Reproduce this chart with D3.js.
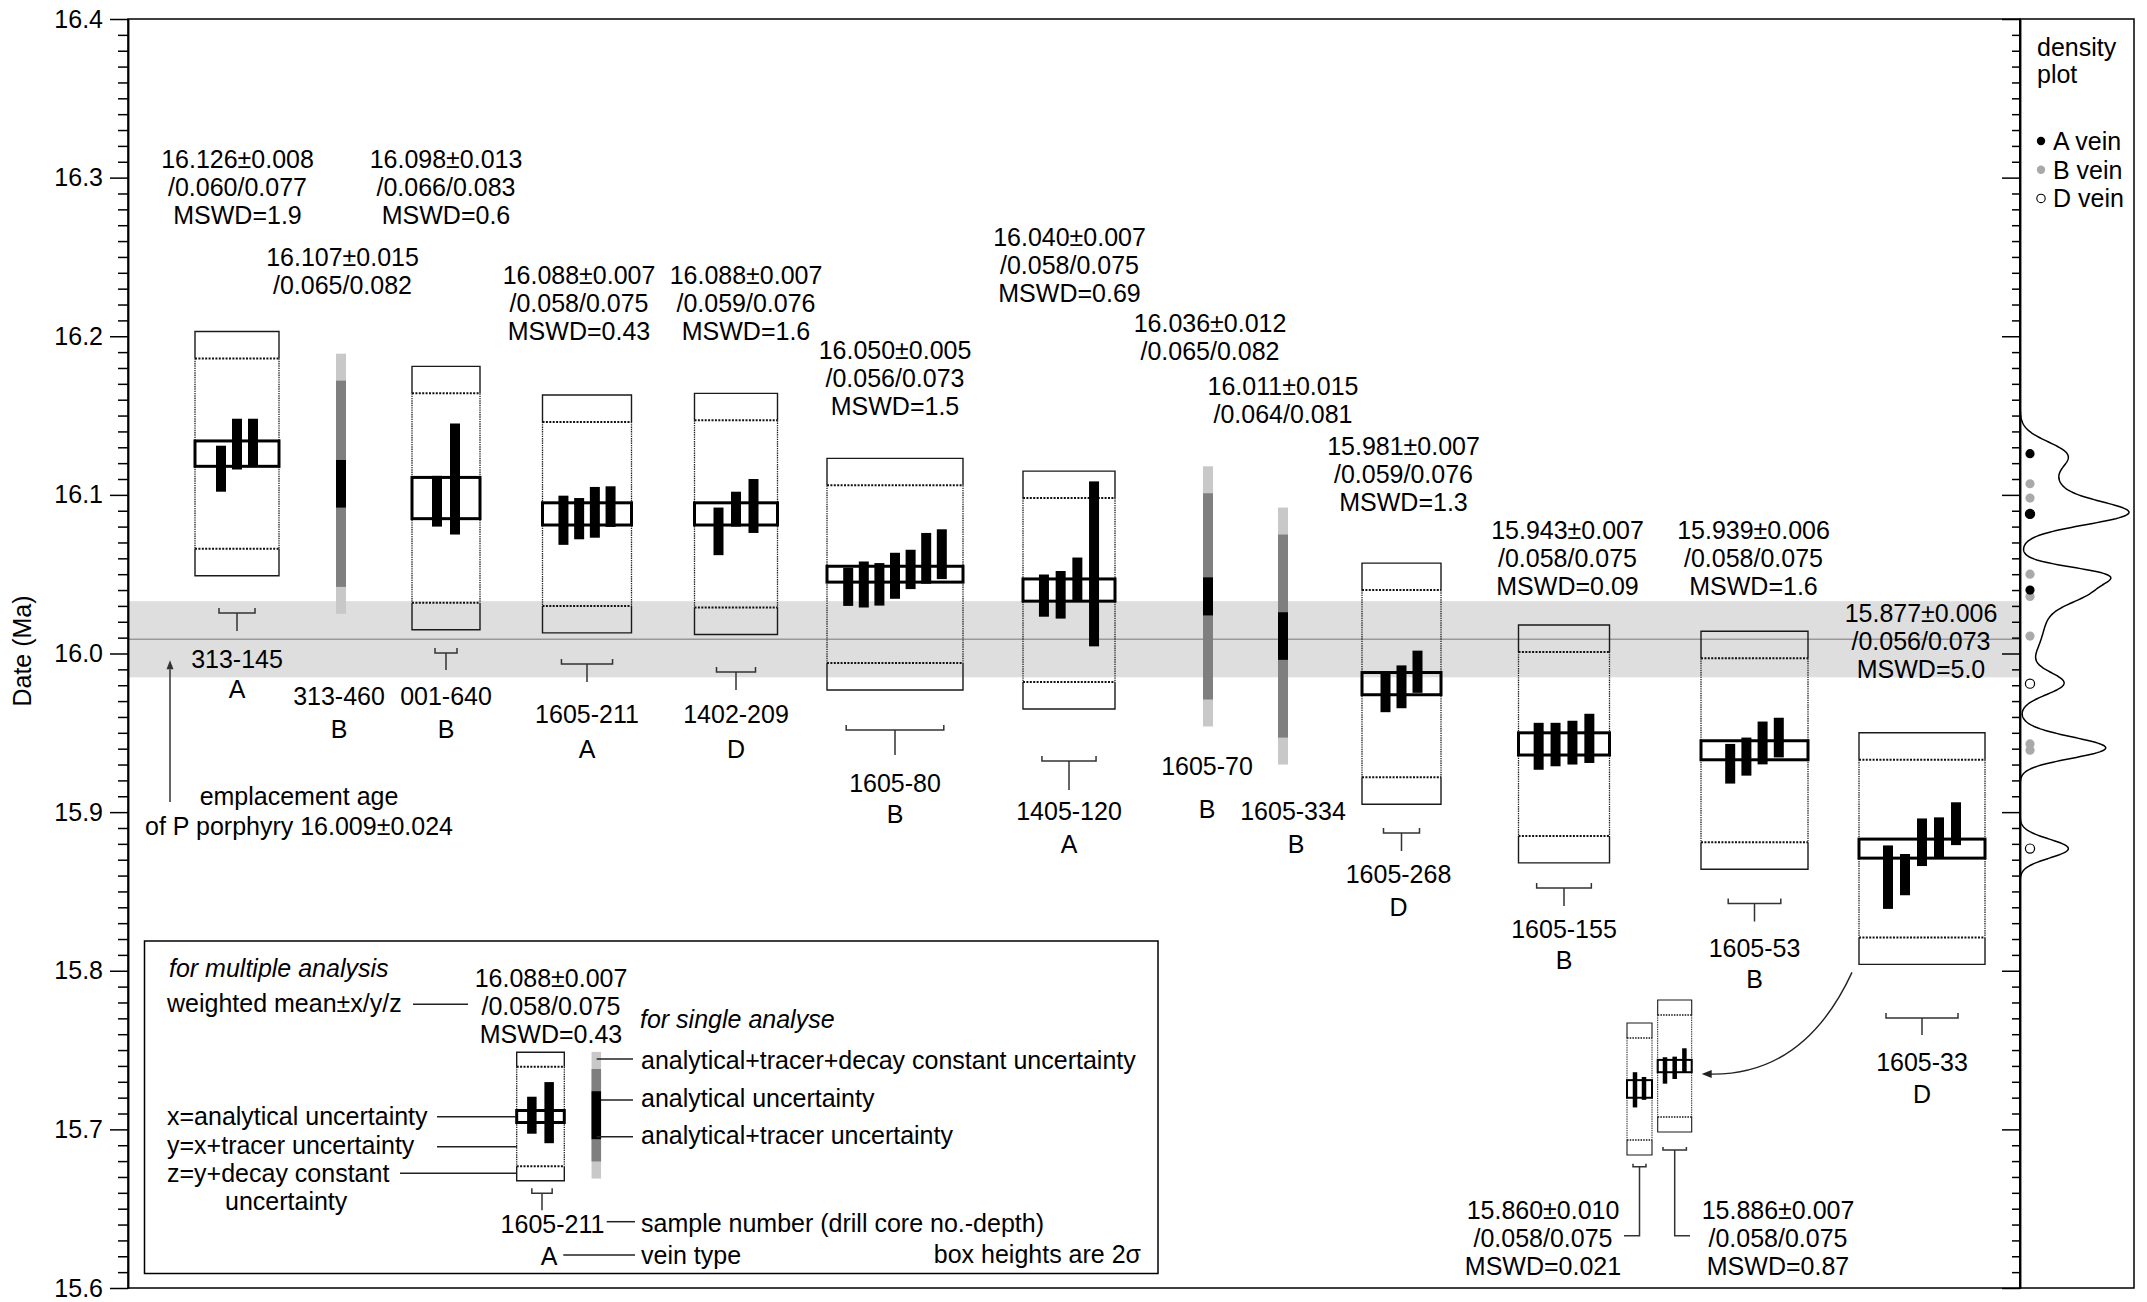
<!DOCTYPE html>
<html>
<head>
<meta charset="utf-8">
<script src="https://cdn.jsdelivr.net/npm/d3@7"></script>
<style>
  body { margin: 0; background: #fff; }
  svg { display: block; font-family: "Liberation Sans", Arial, Helvetica, sans-serif; }
</style>
</head>
<body>
<svg id="chart" width="2147" height="1302"></svg>
<script>
// ---------------- data ----------------
const samples   = ["313-145", "313-460", "001-640", "1605-211", "1402-209", "1605-80", "1405-120",
                   "1605-70", "1605-334", "1605-268", "1605-155", "1605-53", "1605-33"];
const veinTypes = ["A", "B", "B", "A", "D", "B", "A", "B", "B", "D", "B", "B", "D"];
const meanAges  = [16.126, 16.107, 16.098, 16.088, 16.088, 16.050, 16.040, 16.036, 16.011, 15.981, 15.943, 15.939, 15.877];
// ±x analytical / ±y with tracer / ±z with decay constant
const errX = [0.008, 0.015, 0.013, 0.007, 0.007, 0.005, 0.007, 0.012, 0.015, 0.007, 0.007, 0.006, 0.006];
const errY = [0.060, 0.065, 0.066, 0.058, 0.059, 0.056, 0.058, 0.065, 0.064, 0.059, 0.058, 0.058, 0.056];
const errZ = [0.077, 0.082, 0.083, 0.075, 0.076, 0.073, 0.075, 0.082, 0.081, 0.076, 0.075, 0.075, 0.073];
const mswd = ["1.9", null, "0.6", "0.43", "1.6", "1.5", "0.69", null, null, "1.3", "0.09", "1.6", "5.0"];

// individual analyses [date, ±analytical]; empty = single analysis sample
const analyses = [
  [[16.1165, 0.0145], [16.132, 0.016], [16.133, 0.015]],
  [],
  [[16.096, 0.016], [16.110, 0.035]],
  [[16.084, 0.0155], [16.085, 0.013], [16.089, 0.016], [16.0926, 0.0128]],
  [[16.077, 0.015], [16.091, 0.011], [16.093, 0.017]],
  [[16.042, 0.012], [16.0435, 0.0145], [16.0436, 0.0134], [16.049, 0.0145], [16.053, 0.0124], [16.060, 0.016], [16.0626, 0.0157]],
  [[16.0365, 0.0133], [16.037, 0.015], [16.0465, 0.014], [16.0565, 0.052]],
  [],
  [],
  [[15.9755, 0.0125], [15.979, 0.0135], [15.9885, 0.0133]],
  [[15.9415, 0.0148], [15.9426, 0.0137], [15.9438, 0.0138], [15.9465, 0.0155]],
  [[15.9305, 0.0125], [15.935, 0.012], [15.9436, 0.0135], [15.947, 0.0125]],
  [[15.859, 0.020], [15.8606, 0.013], [15.881, 0.015], [15.884, 0.0127], [15.8927, 0.0135]]
];

// 1605-33 split into two sub-populations
const subAges  = [15.860, 15.886];
const subErrX  = [0.010, 0.007];
const subErrY  = [0.058, 0.058];
const subErrZ  = [0.075, 0.075];
const subMswd  = ["0.021", "0.87"];
const subIndex = [[0, 1], [2, 3, 4]];

// emplacement age of the P porphyry
const emplacementAge = 16.009;
const emplacementErr = 0.024;

// key example
const keyBars   = [[16.0895, 0.0216], [16.0925, 0.0357]];
const keySingle = [16.0895, 0.028, 0.054, 0.074];

const yTickLabels = ["15.6", "15.7", "15.8", "15.9", "16.0", "16.1", "16.2", "16.3", "16.4"];

// ---------------- layout ----------------
const W = 2147, H = 1302;
const plot = { left: 128, right: 2020, top: 19, bottom: 1288 };
const panelRight = 2134;
const FS = 25, LH = 27.8;

// column positions in plot units (distance from the left frame)
const columns = [
  { col: 109,    w: 84,  step: 16,   annDx: 0.5, annY: 168, labY: 668, veinY: 698, brY: 613,   stem: 18 },
  { col: 213,                        annDx: 1.5, annY: 266, labDx: -2, labY: 705, veinY: 738 },
  { col: 318,    w: 68,  step: 18,   annDx: 0,   annY: 168, labY: 705, veinY: 738, brY: 653,   stem: 17 },
  { col: 459,    w: 89,  step: 15.7, annDx: -8,  annY: 284, labY: 723, veinY: 758, brY: 664,   stem: 18 },
  { col: 608,    w: 83,  step: 17.5, annDx: 10,  annY: 284, labY: 723, veinY: 758, brY: 672,   stem: 18 },
  { col: 767,    w: 136, step: 15.6, annDx: 0,   annY: 359, labY: 792, veinY: 823, brY: 730,   stem: 25 },
  { col: 941,    w: 92,  step: 16.7, annDx: 0.5, annY: 246, labY: 820, veinY: 853, brY: 761,   stem: 29 },
  { col: 1080,                       annDx: 2,   annY: 332, labDx: -1, labY: 775, veinY: 818 },
  { col: 1155,                       annDx: 0,   annY: 395, labDx: 10, veinDx: 13, labY: 820, veinY: 853 },
  { col: 1273.5, w: 79,  step: 16,   annDx: 2,   annY: 455, labDx: -3, labY: 883, veinY: 916, brY: 833, stem: 18 },
  { col: 1436,   w: 91,  step: 16.9, annDx: 3.5, annY: 539, labY: 938, veinY: 969, brY: 888,   stem: 18 },
  { col: 1626.5, w: 107, step: 16.2, annDx: -1,  annY: 539, labY: 957, veinY: 988, brY: 903.5, stem: 18 },
  { col: 1794,   w: 126, step: 17,   annDx: -1,  annY: 622, labY: 1071, veinY: 1103, brY: 1018, stem: 17 }
];

const svg = d3.select("#chart");
const y = d3.scaleLinear().domain([15.6, 16.4]).range([plot.bottom, plot.top]);
const x = d3.scaleLinear().domain([0, plot.right - plot.left]).range([plot.left, plot.right]);
const f3 = d3.format(".3f");

function text(p, px, py, s, anchor = "middle", extra = {}) {
  const t = p.append("text").attr("x", px).attr("y", py).attr("text-anchor", anchor)
    .attr("font-size", extra.size || FS).attr("fill", "#000").text(s);
  if (extra.italic) t.attr("font-style", "italic");
  return t;
}
function hline(p, x1, x2, yy, stroke = "#222", sw = 1.5) {
  p.append("line").attr("x1", x1).attr("x2", x2).attr("y1", yy).attr("y2", yy)
    .attr("stroke", stroke).attr("stroke-width", sw);
}

// weighted-mean group: outer ±z box, dotted ±y box, analyses bars, thick ±x box
function drawMulti(p, ys, cx, w, step, barW, m, ex, ey, ez, bars, st) {
  const x0 = cx - w / 2, x1 = cx + w / 2;
  const yOT = ys(m + ez), yDT = ys(m + ey), yDB = ys(m - ey), yOB = ys(m - ez);
  p.append("path")
    .attr("d", `M${x0},${yDT}V${yOT}H${x1}V${yDT}M${x0},${yDB}V${yOB}H${x1}V${yDB}`)
    .attr("fill", "none").attr("stroke", "#1a1a1a").attr("stroke-width", st.outer);
  [yDT, yDB].forEach(yy => p.append("line").attr("x1", x0).attr("x2", x1).attr("y1", yy).attr("y2", yy)
    .attr("stroke", "#111").attr("stroke-width", st.dot).attr("stroke-dasharray", st.dash));
  [x0, x1].forEach(xx => p.append("line").attr("x1", xx).attr("x2", xx).attr("y1", yDT).attr("y2", yDB)
    .attr("stroke", "#222").attr("stroke-width", st.side).attr("stroke-dasharray", "1.4,0.9"));
  const n = bars.length;
  const bx = j => cx + (j - (n - 1) / 2) * step;
  p.selectAll(null).data(bars).join("rect")
    .attr("x", (d, j) => bx(j) - barW / 2).attr("width", barW)
    .attr("y", d => ys(d[0] + d[1])).attr("height", d => ys(d[0] - d[1]) - ys(d[0] + d[1]))
    .attr("fill", "#000");
  p.append("rect").attr("x", x0).attr("width", w)
    .attr("y", ys(m + ex)).attr("height", ys(m - ex) - ys(m + ex))
    .attr("fill", "none").attr("stroke", "#000").attr("stroke-width", st.thick);
  return { first: bx(0), last: bx(n - 1) };
}
function drawSingle(p, ys, cx, barW, m, ex, ey, ez) {
  [[ez, "#c8c8c8"], [ey, "#7f7f7f"], [ex, "#000"]].forEach(([e, c]) =>
    p.append("rect").attr("x", cx - barW / 2).attr("width", barW)
      .attr("y", ys(m + e)).attr("height", ys(m - e) - ys(m + e)).attr("fill", c));
}
function drawBracket(p, xa, xb, cx, yb, stem, tick = 5) {
  p.append("path").attr("d", `M${xa},${yb - tick}V${yb}H${xb}V${yb - tick}M${cx},${yb}V${yb + stem}`)
    .attr("fill", "none").attr("stroke", "#333").attr("stroke-width", 1.5);
}

// ---------------- emplacement band ----------------
svg.append("rect")
  .attr("x", plot.left).attr("width", plot.right - plot.left)
  .attr("y", y(emplacementAge + emplacementErr))
  .attr("height", y(emplacementAge - emplacementErr) - y(emplacementAge + emplacementErr))
  .attr("fill", "#dedede");
hline(svg, plot.left, plot.right, y(emplacementAge), "#999", 1.5);

// ---------------- frames & axes ----------------
svg.append("rect").attr("x", plot.left).attr("y", plot.top)
  .attr("width", plot.right - plot.left).attr("height", plot.bottom - plot.top)
  .attr("fill", "none").attr("stroke", "#000").attr("stroke-width", 1.5);
svg.append("rect").attr("x", plot.right).attr("y", plot.top)
  .attr("width", panelRight - plot.right).attr("height", plot.bottom - plot.top)
  .attr("fill", "none").attr("stroke", "#000").attr("stroke-width", 1.5);

const majorTicks = yTickLabels.map(Number);
const minorTicks = d3.range(1560, 1641).filter(v => v % 10 !== 0).map(v => v / 100);

function styleAxis(g) {
  g.select(".domain").attr("stroke", "#000").attr("stroke-width", 1.5);
  g.selectAll(".tick line").attr("stroke", "#000").attr("stroke-width", 1.5);
  g.selectAll(".tick text").attr("font-size", FS).attr("fill", "#000")
    .attr("font-family", "Liberation Sans, Arial, sans-serif");
}
const leftMajor = svg.append("g").attr("transform", `translate(${plot.left},0)`)
  .call(d3.axisLeft(y).tickValues(majorTicks).tickSize(18).tickSizeOuter(0).tickPadding(7)
    .tickFormat((d, i) => yTickLabels[i]));
styleAxis(leftMajor);
const leftMinor = svg.append("g").attr("transform", `translate(${plot.left},0)`)
  .call(d3.axisLeft(y).tickValues(minorTicks).tickSize(10).tickSizeOuter(0).tickFormat(""));
styleAxis(leftMinor);
const rightMajor = svg.append("g").attr("transform", `translate(${plot.right},0)`)
  .call(d3.axisLeft(y).tickValues(majorTicks).tickSize(18).tickSizeOuter(0).tickFormat(""));
styleAxis(rightMajor);
const rightMinor = svg.append("g").attr("transform", `translate(${plot.right},0)`)
  .call(d3.axisLeft(y).tickValues(minorTicks).tickSize(8).tickSizeOuter(0).tickFormat(""));
styleAxis(rightMinor);

svg.append("text").attr("transform", `translate(31,651) rotate(-90)`)
  .attr("text-anchor", "middle").attr("font-size", FS).text("Date (Ma)");

// emplacement annotation with arrow
const arrowX = 170;
svg.append("line").attr("x1", arrowX).attr("x2", arrowX).attr("y1", 802).attr("y2", y(emplacementAge - emplacementErr) - 8)
  .attr("stroke", "#333").attr("stroke-width", 1.5);
svg.append("path")
  .attr("d", `M${arrowX},${y(emplacementAge - emplacementErr) - 17}l-3.5,9h7z`)
  .attr("fill", "#333");
text(svg, 299, 805, "emplacement age");
text(svg, 299, 835, `of P porphyry ${f3(emplacementAge)}±${f3(emplacementErr)}`);

// ---------------- sample groups ----------------
const mainStyle = { outer: 1.4, dot: 2, dash: "2,1.4", thick: 3, side: 1.3 };
samples.forEach((name, i) => {
  const L = columns[i];
  const cx = x(L.col);
  const g = svg.append("g");
  const m = meanAges[i];
  if (analyses[i].length) {
    const r = drawMulti(g, y, cx, L.w, L.step, 10, m, errX[i], errY[i], errZ[i], analyses[i], mainStyle);
    drawBracket(g, r.first - 2, r.last + 2, cx, L.brY, L.stem);
  } else {
    drawSingle(g, y, cx, 10, m, errX[i], errY[i], errZ[i]);
  }
  const lines = [`${f3(m)}±${f3(errX[i])}`, `/${f3(errY[i])}/${f3(errZ[i])}`];
  if (mswd[i]) lines.push(`MSWD=${mswd[i]}`);
  lines.forEach((s, k) => text(g, cx + L.annDx, L.annY + k * LH, s));
  text(g, cx + (L.labDx || 0), L.labY, name);
  text(g, cx + (L.veinDx !== undefined ? L.veinDx : (L.labDx || 0)), L.veinY, veinTypes[i]);
});

// ---------------- 1605-33 sub-population insets ----------------
const insetY = d3.scaleLinear().domain([15.773, 15.973]).range([1077.5 + 88, 1077.5 - 88]);
const insetCols = [
  { cx: 1639.5, w: 25, step: 9,   brY: 1166.7, leadX: 1624, txtX: 1543 },
  { cx: 1674.7, w: 34, step: 9.7, brY: 1150,   leadX: 1690, txtX: 1778 }
];
const insetStyle = { outer: 1.1, dot: 1.5, dash: "1.5,1.2", thick: 2, side: 1 };
const leadY = 1235.7;
subAges.forEach((m, k) => {
  const c = insetCols[k];
  const g = svg.append("g");
  const bars = subIndex[k].map(j => analyses[12][j]);
  const r = drawMulti(g, insetY, c.cx, c.w, c.step, 4.5, m, subErrX[k], subErrY[k], subErrZ[k], bars, insetStyle);
  g.append("path")
    .attr("d", `M${r.first - 2},${c.brY - 3}V${c.brY}H${r.last + 2}V${c.brY - 3}M${c.cx},${c.brY}V${leadY}H${c.leadX}`)
    .attr("fill", "none").attr("stroke", "#333").attr("stroke-width", 1.5);
  [`${f3(m)}±${f3(subErrX[k])}`, `/${f3(subErrY[k])}/${f3(subErrZ[k])}`, `MSWD=${subMswd[k]}`]
    .forEach((s, j) => text(g, c.txtX, 1219 + j * 28, s));
});
// curved pointer from 1605-33 to its insets
const c33 = x(columns[12].col) - columns[12].w / 2;
const yBot33 = y(meanAges[12] - errZ[12]);
const tipX = insetCols[1].cx + insetCols[1].w / 2 + 10, tipY = insetY(subAges[1]) + 8;
svg.append("path")
  .attr("d", `M${c33 - 7},${yBot33 + 8}Q${c33 - 55},${tipY + 2} ${tipX + 8},${tipY}`)
  .attr("fill", "none").attr("stroke", "#222").attr("stroke-width", 1.4);
svg.append("path").attr("d", `M${tipX},${tipY}l10,-4v8z`).attr("fill", "#222");

// ---------------- density panel ----------------
const dens = t => d3.sum(meanAges, (mu, i) => Math.exp(-((t - mu) ** 2) / (2 * errX[i] ** 2)) / errX[i]);
const tGrid = d3.range(0, 1601).map(k => 15.6 + k * 0.0005);
const densPts = tGrid.map(t => [t, dens(t)]);
const xD = d3.scaleLinear().domain([0, d3.max(densPts, d => d[1])]).range([plot.right, 2129]);
svg.append("path").datum(densPts)
  .attr("d", d3.line().x(d => xD(d[1])).y(d => y(d[0])).curve(d3.curveLinear))
  .attr("fill", "none").attr("stroke", "#000").attr("stroke-width", 1.5);

const veinFill = { A: "#000", B: "#a9a9a9", D: "#fff" };
const dotOrder = d3.range(samples.length).sort((a, b) => d3.descending(veinTypes[a], veinTypes[b]));
svg.append("g").selectAll("circle").data(dotOrder).join("circle")
  .attr("cx", 2030).attr("cy", i => y(meanAges[i])).attr("r", 4.6)
  .attr("fill", i => veinFill[veinTypes[i]])
  .attr("stroke", i => veinTypes[i] === "D" ? "#000" : "none").attr("stroke-width", 1.2);

text(svg, 2037, 56, "density", "start");
text(svg, 2037, 83, "plot", "start");
["A", "B", "D"].forEach((v, k) => {
  svg.append("circle").attr("cx", 2041).attr("cy", 141 + k * 28.7).attr("r", 4.2)
    .attr("fill", veinFill[v]).attr("stroke", v === "D" ? "#000" : "none").attr("stroke-width", 1.1);
  text(svg, 2053, 150 + k * 28.7, `${v} vein`, "start");
});

// ---------------- key ----------------
const key = svg.append("g");
key.append("rect").attr("x", 144.5).attr("y", 941).attr("width", 1013.5).attr("height", 332.5)
  .attr("fill", "#fff").attr("stroke", "#000").attr("stroke-width", 1.5);
const keyY = d3.scaleLinear().domain([meanAges[3] - errZ[3], meanAges[3] + errZ[3]]).range([1180.7, 1052.3]);
const kr = drawMulti(key, keyY, 540.5, 47.6, 17.3, 9.5, meanAges[3], errX[3], errY[3], errZ[3], keyBars, mainStyle);
drawBracket(key, kr.first, kr.last + 3, 542, 1193.3, 17);
drawSingle(key, keyY, 596.3, 9.5, keySingle[0], keySingle[1], keySingle[2], keySingle[3]);

text(key, 169, 977, "for multiple analysis", "start", { italic: true });
text(key, 167, 1012, "weighted mean±x/y/z", "start");
hline(key, 413, 468, 1004.3);
[`${f3(meanAges[3])}±${f3(errX[3])}`, `/${f3(errY[3])}/${f3(errZ[3])}`, `MSWD=${mswd[3]}`]
  .forEach((s, k) => text(key, 551, 986.5 + k * 28, s));
text(key, 167, 1125, "x=analytical uncertainty", "start");
hline(key, 437, 516, 1116.7);
text(key, 167, 1154, "y=x+tracer uncertainty", "start");
hline(key, 437, 517, 1146.7);
text(key, 167, 1182, "z=y+decay constant", "start");
hline(key, 400, 517, 1173.3);
text(key, 225, 1210, "uncertainty", "start");

text(key, 640, 1028, "for single analyse", "start", { italic: true });
text(key, 641, 1069, "analytical+tracer+decay constant uncertainty", "start");
hline(key, 596.7, 633, 1059);
text(key, 641, 1107, "analytical uncertainty", "start");
hline(key, 601, 633, 1100);
text(key, 641, 1144, "analytical+tracer uncertainty", "start");
hline(key, 596.7, 633, 1136.7);

text(key, 552.5, 1233, samples[3]);
hline(key, 606.7, 635, 1221.7);
text(key, 641, 1232, "sample number (drill core no.-depth)", "start");
text(key, 549, 1265, veinTypes[3]);
hline(key, 563.3, 635, 1255);
text(key, 641, 1264, "vein type", "start");
text(key, 1141, 1263, "box heights are 2σ", "end");
</script>
</body>
</html>
